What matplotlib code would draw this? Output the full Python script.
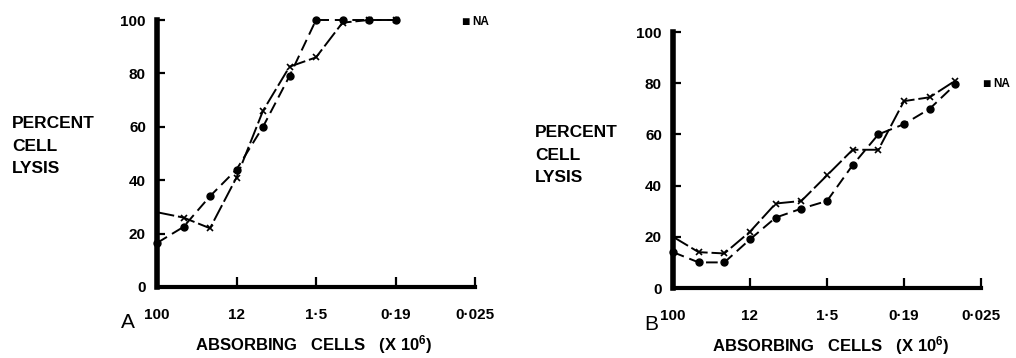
import numpy as np
import matplotlib.pyplot as plt

plt.rcParams['mathtext.fontset'] = 'custom'
plt.rcParams['mathtext.rm'] = 'Liberation Sans:bold'
plt.rcParams['mathtext.it'] = 'Liberation Sans:bold'
plt.rcParams['mathtext.bf'] = 'Liberation Sans:bold'

# dilution steps (two-fold), labelled every third step
tick_pos = [0, 3, 6, 9, 12]
tick_labels = ['100', '12', '1·5', '0·19', '0·025']

a_dot_x = list(range(10))
a_dot_y = [16.5, 22.5, 34, 44, 60, 79, 100, 100, 100, 100]
a_cross_x = list(range(10))
a_cross_y = [28, 26, 22, 41, 66, 82.5, 86, 99, 100, 100]

b_dot_x = list(range(12))
b_dot_y = [14, 10, 10, 19, 27.5, 31, 34, 48, 60, 64, 70, 79.5]
b_cross_x = list(range(12))
b_cross_y = [20, 14, 13.5, 22, 33, 34, 44, 54, 54, 73, 74.5, 81]

narrow = ['Liberation Sans Narrow', 'Liberation Sans', 'DejaVu Sans']
sans = ['Liberation Sans', 'DejaVu Sans']

fig = plt.figure(figsize=(10.16, 3.58), dpi=100)
W, H = 1016, 358


def panel(rect, dx, dy, cx, cy, letter, letter_xy, ylab_xy, leg_xy, title_xy):
    l, r, b, t = rect
    ax = fig.add_axes([l / W, 1 - b / H, (r - l) / W, (b - t) / H])
    ax.plot(cx, cy, color='black', lw=1.4, dashes=(9, 2), clip_on=False,
            marker='x', ms=4.5, mew=1.2, markevery=list(range(1, len(cx))))
    ax.plot(dx, dy, color='black', lw=1.4, dashes=(6, 3), clip_on=False,
            marker='o', ms=5)
    ax.set_xlim(0, 12)
    ax.set_ylim(0, 100)
    for s in ['top', 'right']:
        ax.spines[s].set_visible(False)
    ax.spines['left'].set_linewidth(4)
    ax.spines['bottom'].set_linewidth(3)
    ax.set_xticks(tick_pos)
    ax.set_xticklabels(tick_labels)
    ax.set_yticks([0, 20, 40, 60, 80, 100])
    ax.tick_params(axis='x', direction='in', length=7, width=1.6, pad=15)
    ax.tick_params(axis='y', direction='in', length=6, width=1.6, pad=8)
    for lab in ax.get_xticklabels() + ax.get_yticklabels():
        lab.set_family(narrow)
        lab.set_weight('bold')
        lab.set_fontsize(11)
    ax.xaxis.get_major_ticks()[0].tick1line.set_visible(False)
    ax.yaxis.get_major_ticks()[0].tick1line.set_visible(False)
    ax.patch.set_visible(False)

    fig.text(letter_xy[0] / W, 1 - letter_xy[1] / H, letter,
             family=sans, fontsize=15, va='center', ha='left')
    fig.text(ylab_xy[0] / W, 1 - ylab_xy[1] / H, 'PERCENT\nCELL\nLYSIS',
             family=sans, weight='bold', fontsize=12.5, va='center',
             ha='left', linespacing=1.6)
    fig.text(leg_xy[0] / W, 1 - leg_xy[1] / H, '■',
             family=sans, fontsize=10, va='center', ha='left')
    fig.text((leg_xy[0] + 11) / W, 1 - leg_xy[1] / H, 'NA',
             family=sans, weight='bold', fontsize=8.5, va='center', ha='left')
    fig.text(title_xy[0] / W, 1 - title_xy[1] / H,
             r'ABSORBING   CELLS   (X 10$^{6}$)',
             family=sans, weight='bold', fontsize=12, va='center',
             ha='center')
    return ax


panel((157, 475, 287, 20), a_dot_x, a_dot_y, a_cross_x, a_cross_y,
      'A', (121, 323), (12, 146), (461, 22), (314, 345))
panel((673, 981, 288, 32), b_dot_x, b_dot_y, b_cross_x, b_cross_y,
      'B', (644, 324), (535, 155), (982, 84), (831, 346))

fig.savefig('out.png', dpi=100)
